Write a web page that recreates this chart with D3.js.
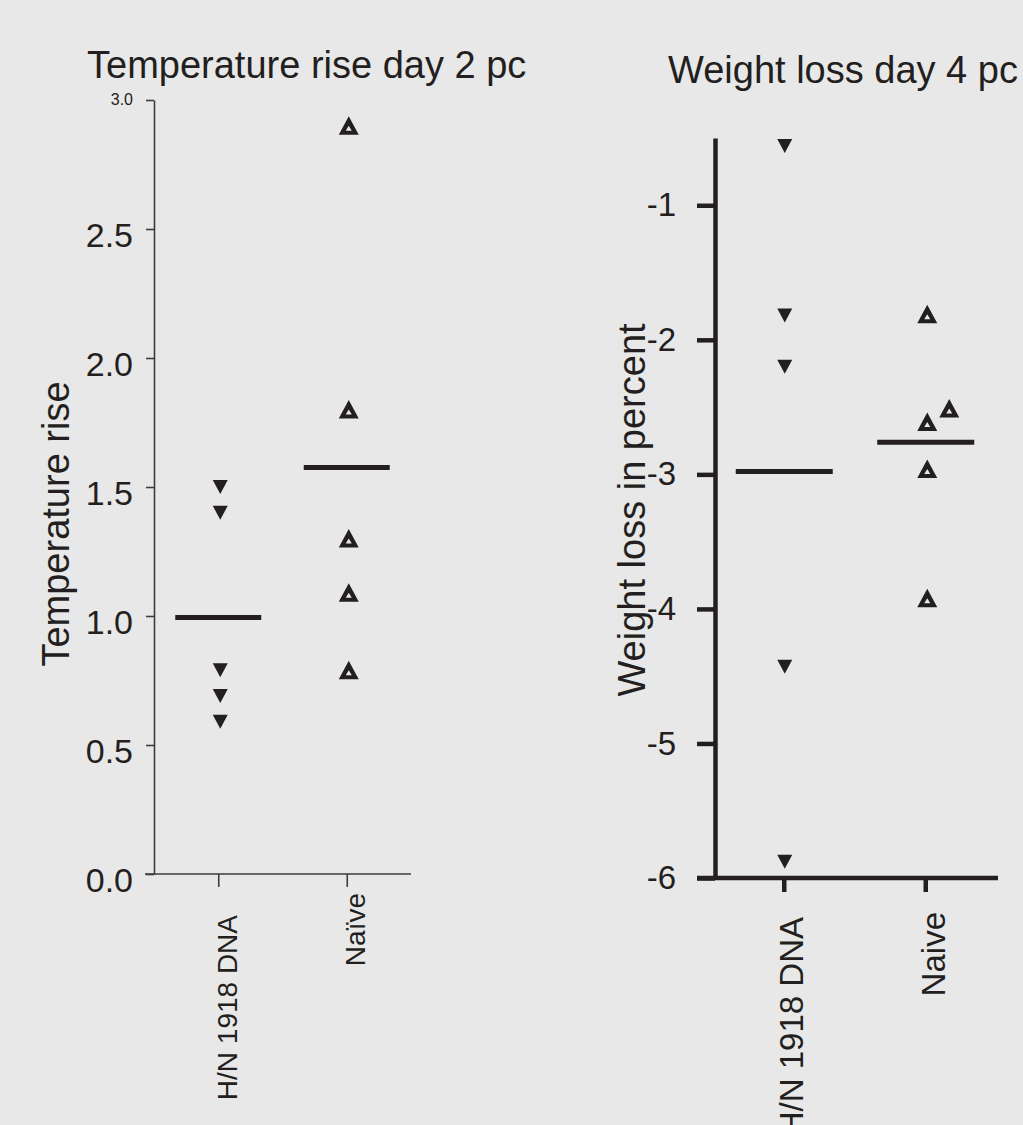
<!DOCTYPE html>
<html>
<head>
<meta charset="utf-8">
<script src="https://cdn.jsdelivr.net/npm/d3@7"></script>
<style>
  html, body { margin: 0; padding: 0; background: #e8e8e8; }
  svg { display: block; }
  text { font-family: "Liberation Sans", Arial, sans-serif; fill: #231f20; }
</style>
</head>
<body>
<script>
// temperature panel
const tempCategories = ["H/N 1918 DNA", "Naïve"];
const tempHN = [1.50, 1.40, 0.79, 0.69, 0.59];
const tempNaive = [2.90, 1.80, 1.30, 1.09, 0.79];
const tempTicks = [0, 0.5, 1.0, 1.5, 2.0, 2.5, 3.0];

// weight panel
const weightCategories = ["H/N 1918 DNA", "Naive"];
const weightHN = [-0.56, -1.82, -2.20, -4.43, -5.88];
const weightNaive = [-1.81, -2.61, -2.51, -2.96, -3.92];
const weightTicks = [-1, -2, -3, -4, -5, -6];

const ink = "#231f20";
const width = 1023, height = 1125;

const svg = d3.select("body").append("svg")
  .attr("width", width)
  .attr("height", height);

svg.append("rect").attr("width", width).attr("height", height).attr("fill", "#e8e8e8");

// marker shapes
const downTri = "M-7.5,-7L7.5,-7L0,7Z";
const upTri = "M-10,9L10,9L0,-9.5ZM-3,5L3,5L0,0Z"; // hollow centre via evenodd

// place points; nudge right when two marks would sit on top of each other
function placePoints(values, cx, y, minGap, shift){
  const placed = [];
  values.slice().sort((a, b) => a - b).forEach(v => {
    let px = cx;
    const py = y(v);
    while (placed.some(p => p.x === px && Math.abs(p.y - py) < minGap)) px += shift;
    placed.push({x: px, y: py, v});
  });
  return placed;
}

// ---------------- left: temperature rise ----------------
{
  const y = d3.scaleLinear().domain([0, 3]).range([874, 100]);
  const x = d3.scalePoint().domain(tempCategories).range([154, 411]).padding(0.5);
  const g = svg.append("g");

  const yAxis = g.append("g")
    .attr("transform", "translate(154,0)")
    .call(d3.axisLeft(y).tickValues(tempTicks).tickSize(8).tickSizeOuter(0).tickPadding(13)
      .tickFormat(d3.format(".1f")));
  yAxis.select(".domain").attr("stroke", "#3c3c3c").attr("stroke-width", 1.6);
  yAxis.selectAll(".tick line").attr("stroke", "#3c3c3c").attr("stroke-width", 1.6);
  yAxis.selectAll(".tick text")
    .attr("font-size", d => d === 3 ? 16 : 34)
    .attr("dy", d => d === 3 ? "0.3em" : "0.52em")
    .attr("fill", ink);

  // x axis line runs a little past the y axis
  g.append("line").attr("x1", 145).attr("x2", 411).attr("y1", y(0)).attr("y2", y(0))
    .attr("stroke", "#3c3c3c").attr("stroke-width", 1.6);
  const xAxis = g.append("g")
    .attr("transform", `translate(0,${y(0)})`)
    .call(d3.axisBottom(x).tickSize(13).tickSizeOuter(0));
  xAxis.select(".domain").remove();
  xAxis.selectAll(".tick line").attr("stroke", "#3c3c3c").attr("stroke-width", 1.6);
  const leftLabelGap = [41, 19];
  xAxis.selectAll(".tick text")
    .attr("font-size", 28)
    .attr("text-anchor", "end")
    .attr("transform", "rotate(-90)")
    .attr("x", (d, i) => -leftLabelGap[i])
    .attr("y", 18)
    .attr("dy", 0)
    .attr("fill", ink);

  const hn = placePoints(tempHN, x(tempCategories[0]) + 2, y, 15, 21);
  const nv = placePoints(tempNaive, x(tempCategories[1]) + 2, y, 15, 21);

  g.append("g").selectAll("path").data(hn).join("path")
    .attr("d", downTri).attr("fill", ink)
    .attr("transform", d => `translate(${d.x},${d.y})`);
  g.append("g").selectAll("path").data(nv).join("path")
    .attr("d", upTri).attr("fill", ink).attr("fill-rule", "evenodd")
    .attr("transform", d => `translate(${d.x},${d.y})`);

  [[tempCategories[0], tempHN], [tempCategories[1], tempNaive]].forEach(([c, vals]) => {
    g.append("line")
      .attr("x1", x(c) - 43).attr("x2", x(c) + 43)
      .attr("y1", y(d3.mean(vals))).attr("y2", y(d3.mean(vals)))
      .attr("stroke", ink).attr("stroke-width", 5);
  });

  g.append("text").attr("x", 87).attr("y", 78).attr("font-size", 38)
    .text("Temperature rise day 2 pc");
  g.append("text").attr("transform", "translate(69,524) rotate(-90)")
    .attr("text-anchor", "middle").attr("font-size", 38)
    .text("Temperature rise");
}

// ---------------- right: weight loss ----------------
{
  const y = d3.scaleLinear().domain([-6, -0.5]).range([878, 138]);
  const x = d3.scalePoint().domain(weightCategories).range([713, 996]).padding(0.5);
  const g = svg.append("g");

  const yAxis = g.append("g")
    .attr("transform", "translate(715,0)")
    .call(d3.axisLeft(y).tickValues(weightTicks).tickSize(18).tickSizeOuter(0).tickPadding(21)
      .tickFormat(d => String(d)));
  yAxis.select(".domain").attr("stroke", ink).attr("stroke-width", 4.5);
  yAxis.selectAll(".tick line").attr("stroke", ink).attr("stroke-width", 4.5);
  yAxis.selectAll(".tick text").attr("font-size", 33).attr("fill", ink);

  g.append("line").attr("x1", 697).attr("x2", 998).attr("y1", y(-6)).attr("y2", y(-6))
    .attr("stroke", ink).attr("stroke-width", 4.5);
  const xAxis = g.append("g")
    .attr("transform", `translate(0,${y(-6)})`)
    .call(d3.axisBottom(x).tickSize(14).tickSizeOuter(0));
  xAxis.select(".domain").remove();
  xAxis.selectAll(".tick line").attr("stroke", ink).attr("stroke-width", 4.5);
  const rightLabelGap = [39, 34];
  xAxis.selectAll(".tick text")
    .attr("font-size", 33)
    .attr("text-anchor", "end")
    .attr("transform", "rotate(-90)")
    .attr("x", (d, i) => -rightLabelGap[i])
    .attr("y", 19)
    .attr("dy", 0)
    .attr("fill", ink);

  const hn = placePoints(weightHN, x(weightCategories[0]) + 1, y, 16, 22);
  const nv = placePoints(weightNaive, x(weightCategories[1]) + 2, y, 16, 22);

  g.append("g").selectAll("path").data(hn).join("path")
    .attr("d", downTri).attr("fill", ink)
    .attr("transform", d => `translate(${d.x},${d.y})`);
  g.append("g").selectAll("path").data(nv).join("path")
    .attr("d", upTri).attr("fill", ink).attr("fill-rule", "evenodd")
    .attr("transform", d => `translate(${d.x},${d.y})`);

  [[weightCategories[0], weightHN], [weightCategories[1], weightNaive]].forEach(([c, vals]) => {
    g.append("line")
      .attr("x1", x(c) - 48).attr("x2", x(c) + 49)
      .attr("y1", y(d3.mean(vals))).attr("y2", y(d3.mean(vals)))
      .attr("stroke", ink).attr("stroke-width", 5);
  });

  g.append("text").attr("x", 668).attr("y", 83).attr("font-size", 38)
    .text("Weight loss day 4 pc");
  g.append("text").attr("transform", "translate(645,510) rotate(-90)")
    .attr("text-anchor", "middle").attr("font-size", 38)
    .text("Weight loss in percent");
}
</script>
</body>
</html>
